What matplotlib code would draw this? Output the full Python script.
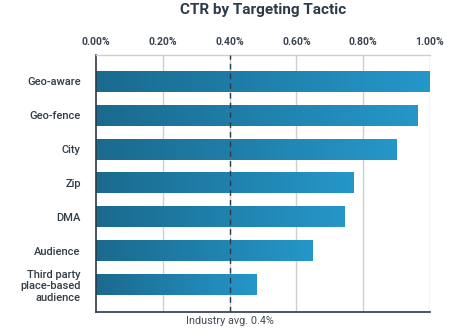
import matplotlib
matplotlib.use("Agg")
import matplotlib.pyplot as plt
import numpy as np
from matplotlib.colors import LinearSegmentedColormap

categories = ["Geo-aware", "Geo-fence", "City", "Zip", "DMA", "Audience",
              "Third party\nplace-based\naudience"]
ctr = [1.00, 0.963, 0.900, 0.772, 0.745, 0.649, 0.481]
x_ticks = [0.0, 0.2, 0.4, 0.6, 0.8, 1.0]
x_tick_labels = ["0.00%", "0.20%", "0.40%", "0.60%", "0.80%", "1.00%"]
industry_avg = 0.4

plt.rcParams["font.family"] = ["Roboto", "DejaVu Sans"]

W, H = 459, 331
fig = plt.figure(figsize=(W / 100, H / 100), dpi=100)
ax = fig.add_axes([96 / W, 1 - 312 / H, (430 - 96) / W, (312 - 55) / H])

cmap = LinearSegmentedColormap.from_list("bar", ["#1a6a8e", "#2597c9"])
grad = np.linspace(0, 1, 256).reshape(1, -1)
bar_h = 0.62
n = len(categories)

for x in x_ticks[1:]:
    ax.axvline(x, color="#cfcfcf", lw=1.0, zorder=0)

# bars with a left-to-right gradient fill, clipped to each bar rectangle
for i, v in enumerate(ctr):
    rect = ax.barh(i, v, height=bar_h, color="none", edgecolor="none", zorder=2)[0]
    im = ax.imshow(grad, cmap=cmap, aspect="auto",
                   extent=[0, v, i + bar_h / 2, i - bar_h / 2], zorder=2)
    im.set_clip_path(rect)

ax.set_xlim(0, 1.0)
ax.set_ylim(n - 1 + 0.81, -0.78)

ax.axvline(industry_avg, color="#2d3a48", lw=1.0, ls=(0, (4, 3)), zorder=3)

ax.xaxis.tick_top()
ax.set_xticks(x_ticks)
ax.set_xticklabels(x_tick_labels, fontsize=7.5, fontweight="bold", color="#3a4450")
ax.tick_params(axis="x", length=0, pad=6)
ax.set_yticks(range(n))
ax.set_yticklabels(categories, fontsize=8, fontweight="medium", color="#333d47",
                   linespacing=1.2)
ax.tick_params(axis="y", length=0, pad=11)

for s in ("left", "bottom"):
    ax.spines[s].set_color("#2d3a48")
    ax.spines[s].set_linewidth(1.2)
ax.spines["top"].set_color("#cfcfcf")
ax.spines["top"].set_linewidth(1.0)
ax.spines["right"].set_visible(False)

ax.text(industry_avg, -0.015, "Industry avg. 0.4%", transform=ax.get_xaxis_transform(),
        ha="center", va="top", fontsize=7.8, color="#444c55")

fig.text(263 / W, 1 - 10 / H, "CTR by Targeting Tactic", ha="center", va="center",
         fontsize=11, fontweight="bold", color="#2d3a48")

fig.savefig("out.png", dpi=100)
